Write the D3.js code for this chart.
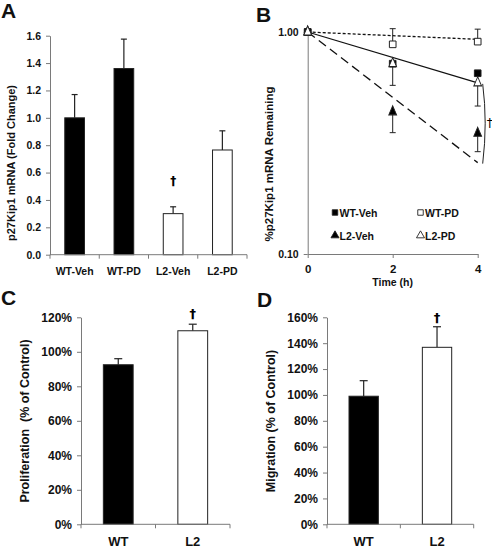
<!DOCTYPE html>
<html><head><meta charset="utf-8">
<script src="https://cdn.jsdelivr.net/npm/d3@7"></script>
<style>
body{margin:0;background:#fff;}
svg{display:block;font-family:"Liberation Sans",Arial,sans-serif;font-weight:bold;}
</style></head>
<body><svg id="c" width="492" height="548"></svg>
<script>
// ---- Panel A data ----
const catsA = ["WT-Veh","WT-PD","L2-Veh","L2-PD"];
const valsA = [1.00, 1.36, 0.30, 0.765];
const errTopA = [1.17, 1.575, 0.35, 0.905];
const fillA = ["black","black","white","white"];
const ticksA = [0,0.2,0.4,0.6,0.8,1.0,1.2,1.4,1.6];

// ---- Panel B data ----
const timesB = [0,2,4];
const wtVeh = [1.0, 0.72, 0.652];
const wtPD = [1.0, 0.88, 0.905];
const wtPDErrTop = [1.0, 1.035, 1.03];
const l2Veh = [1.0, 0.437, 0.35];
const l2VehErrBot = [1.0, 0.352, 0.289];
const l2PD = [1.0, 0.72, 0.59];
const l2PDErrBot = [1.0, 0.575, 0.464];
const fitNames = ["WT-PD fit","WT-Veh fit","L2-Veh fit"];
const fitStart = [1.0, 1.0, 1.0];
const fitEnd = [0.927, 0.59, 0.258];
const legendB = ["WT-Veh","WT-PD","L2-Veh","L2-PD"];
const ticksB = [0.1, 1.0];
const ticksBLabels = ["0.10","1.00"];

// ---- Panel C data ----
const catsC = ["WT","L2"];
const valsC = [0.925, 1.122];
const errTopC = [0.96, 1.16];
const ticksC = [0,0.2,0.4,0.6,0.8,1.0,1.2];

// ---- Panel D data ----
const catsD = ["WT","L2"];
const valsD = [0.99, 1.368];
const errTopD = [1.11, 1.527];
const ticksD = [0,0.2,0.4,0.6,0.8,1.0,1.2,1.4,1.6];

const svg = d3.select("#c");
const AX = "#7a7a7a";

function styleAxis(g, fs){
  g.selectAll("path,line").attr("stroke", AX).attr("stroke-width",1);
  g.selectAll("text").attr("fill","#111").attr("font-size",fs).attr("font-weight","bold")
   .attr("font-family","Liberation Sans, Arial, sans-serif");
}

function dagger(g, xp, yp, fs, weight){
  g.append("text").attr("x",xp).attr("y",yp).attr("text-anchor","middle")
    .attr("font-family","DejaVu Sans, sans-serif").attr("font-weight",weight||"bold")
    .attr("font-size",fs).attr("fill","#000").text("\u2020");
}

function barPanel(o){
  const g = svg.append("g");
  const x = d3.scaleBand().domain(o.cats).range([o.x0,o.x1]).paddingInner(0.6).paddingOuter(0.3);
  const y = d3.scaleLinear().domain([0,o.ymax]).range([o.y0,o.y1]);
  o.cats.forEach((c,i)=>{
    const cx = x(c)+x.bandwidth()/2;
    g.append("line").attr("x1",cx).attr("x2",cx).attr("y1",y(o.vals[i])).attr("y2",y(o.err[i]))
      .attr("stroke","#222").attr("stroke-width",1.2);
    g.append("line").attr("x1",cx-o.cap).attr("x2",cx+o.cap).attr("y1",y(o.err[i])).attr("y2",y(o.err[i]))
      .attr("stroke","#222").attr("stroke-width",1.2);
  });
  g.selectAll("rect.bar").data(o.cats).join("rect")
    .attr("x",c=>x(c)).attr("width",x.bandwidth())
    .attr("y",(c,i)=>y(o.vals[i])).attr("height",(c,i)=>o.y0-y(o.vals[i]))
    .attr("fill",(c,i)=>o.fill[i]).attr("stroke","#222").attr("stroke-width",1);
  const ya = g.append("g").attr("transform",`translate(${o.x0},0)`)
    .call(d3.axisLeft(y).tickValues(o.ticks).tickFormat(o.fmt).tickSize(4).tickSizeOuter(0).tickPadding(5));
  styleAxis(ya, o.tickFs);
  g.append("line").attr("x1",o.x0).attr("x2",o.x1).attr("y1",o.y0).attr("y2",o.y0).attr("stroke",AX);
  const bounds = d3.range(o.cats.length+1).map(k=>o.x0 + k*(o.x1-o.x0)/o.cats.length);
  g.selectAll("line.bt").data(bounds).join("line").attr("x1",d=>d).attr("x2",d=>d)
    .attr("y1",o.y0).attr("y2",o.y0+4).attr("stroke",AX);
  g.selectAll("text.xl").data(o.cats).join("text")
    .attr("x",c=>x(c)+x.bandwidth()/2).attr("y",o.xlY).attr("text-anchor","middle")
    .attr("font-size",o.xFs).attr("fill","#111").text(c=>c);
  g.append("text").attr("transform",`translate(${o.ylX},${o.ylY}) rotate(-90)`)
    .attr("text-anchor","middle").attr("font-size",o.ylFs).attr("fill","#111")
    .style("white-space","pre").text(o.ylabel);
  o.dag.forEach(i=>{
    const c=o.cats[i];
    dagger(g, x(c)+x.bandwidth()/2, o.dagY, o.dagFs);
  });
  g.append("text").attr("x",o.lx).attr("y",o.ly).attr("font-size",21).attr("fill","#111").text(o.letter);
  return {x,y};
}

barPanel({cats:catsA, vals:valsA, err:errTopA, fill:fillA, ticks:ticksA, fmt:d3.format(".1f"),
  x0:50, x1:247, y0:254.7, y1:35.7, ymax:1.6, cap:3, tickFs:10.5, xFs:10.5, xlY:274.5,
  ylabel:"p27Kip1 mRNA (Fold Change)", ylX:15, ylY:163, ylFs:11, dag:[2], dagFs:12,
  dagY:185, lx:1, ly:18, letter:"A"});

barPanel({cats:catsC, vals:valsC, err:errTopC, fill:["black","white"], ticks:ticksC, fmt:d3.format(".0%"),
  x0:81, x1:230, y0:524.3, y1:317.3, ymax:1.2, cap:4, tickFs:12, xFs:13, xlY:546,
  ylabel:"Proliferation  (% of Control)", ylX:29, ylY:421, ylFs:12.5, dag:[1], dagFs:13,
  dagY:318, lx:1, ly:305, letter:"C"});

barPanel({cats:catsD, vals:valsD, err:errTopD, fill:["black","white"], ticks:ticksD, fmt:d3.format(".0%"),
  x0:327, x1:473.7, y0:524.3, y1:317.3, ymax:1.6, cap:4, tickFs:12, xFs:13, xlY:546,
  ylabel:"Migration (% of Control)", ylX:275, ylY:421, ylFs:12.5, dag:[1], dagFs:13,
  dagY:322, lx:257, ly:307, letter:"D"});

// ---- Panel B ----
(function(){
  const g = svg.append("g");
  const x = d3.scaleLinear().domain([0,4]).range([307.7,477.7]);
  const y = d3.scaleLog().domain([0.1,1]).range([254,32]);
  const ya = g.append("g").attr("transform","translate(307.7,0)")
    .call(d3.axisLeft(y).tickValues(ticksB).tickFormat((d,i)=>ticksBLabels[i]).tickSize(4).tickSizeOuter(0).tickPadding(5));
  styleAxis(ya, 10.5);
  const xa = g.append("g").attr("transform","translate(0,254)")
    .call(d3.axisBottom(x).tickValues(timesB).tickFormat(d3.format("d")).tickSize(4).tickSizeOuter(0).tickPadding(7));
  styleAxis(xa, 11.5);
  g.append("text").attr("x",x(2)).attr("y",286).attr("text-anchor","middle").attr("font-size",10.5).attr("fill","#111").text("Time (h)");
  g.append("text").attr("transform","translate(273,164) rotate(-90)").attr("text-anchor","middle")
    .attr("font-size",11.5).attr("fill","#111").text("%p27Kip1 mRNA Remaining");
  const dashes = ["3,2", null, "9,5"];
  fitNames.forEach((n,i)=>{
    g.append("line").attr("x1",x(0)).attr("y1",y(fitStart[i])).attr("x2",x(4)).attr("y2",y(fitEnd[i]))
      .attr("stroke","#111").attr("stroke-width",1.3).attr("stroke-dasharray",dashes[i]);
  });
  function eb(vals, errs){
    timesB.forEach((t,i)=>{
      if(i===0) return;
      g.append("line").attr("x1",x(t)).attr("x2",x(t)).attr("y1",y(vals[i])).attr("y2",y(errs[i])).attr("stroke","#222");
      g.append("line").attr("x1",x(t)-3).attr("x2",x(t)+3).attr("y1",y(errs[i])).attr("y2",y(errs[i])).attr("stroke","#222");
    });
  }
  eb(wtPD, wtPDErrTop); eb(l2Veh, l2VehErrBot); eb(l2PD, l2PDErrBot);
  const sq = d3.symbol().type(d3.symbolSquare).size(44);
  const tri = d3.symbol().type(d3.symbolTriangle).size(36);
  function pts(vals, sym, fill){
    g.selectAll(null).data(timesB).join("path").attr("d",sym)
      .attr("transform",(t,i)=>`translate(${x(t)},${y(vals[i])}) scale(0.85,1.15)`)
      .attr("fill",fill).attr("stroke","#222").attr("stroke-width",1);
  }
  function sqs(vals, fill){
    g.selectAll(null).data(timesB).join("path").attr("d",sq)
      .attr("transform",(t,i)=>`translate(${x(t)},${y(vals[i])})`)
      .attr("fill",fill).attr("stroke","#222").attr("stroke-width",1);
  }
  sqs(wtPD, "white");
  sqs(wtVeh, "black");
  pts(l2Veh, tri, "black");
  pts(l2PD, tri, "white");
  const bx = x(4)+5;
  const ym = (y(fitEnd[1])+y(fitEnd[2]))/2;
  const p = d3.path(); p.moveTo(bx, y(fitEnd[1])+1); p.quadraticCurveTo(bx+5, ym, bx, y(fitEnd[2])+1);
  g.append("path").attr("d",p.toString()).attr("fill","none").attr("stroke","#222").attr("stroke-width",1);
  dagger(g, bx+7, ym+4, 12, "normal");
  const lsym = [d3.symbol().type(d3.symbolSquare).size(30), d3.symbol().type(d3.symbolSquare).size(30),
                d3.symbol().type(d3.symbolTriangle).size(28), d3.symbol().type(d3.symbolTriangle).size(28)];
  const lfill = ["black","white","black","white"];
  const lx = [335, 420.5, 335, 420.5], ly = [212.5, 212.5, 235.5, 235.5];
  legendB.forEach((n,i)=>{
    g.append("path").attr("d",lsym[i]).attr("transform",`translate(${lx[i]},${ly[i]})`)
      .attr("fill",lfill[i]).attr("stroke","#222").attr("stroke-width",0.9);
    g.append("text").attr("x",lx[i]+4.5).attr("y",ly[i]+4).attr("font-size",10.5).attr("fill","#111").text(n);
  });
  g.append("text").attr("x",256).attr("y",22).attr("font-size",21).attr("fill","#111").text("B");
})();
</script></body></html>
